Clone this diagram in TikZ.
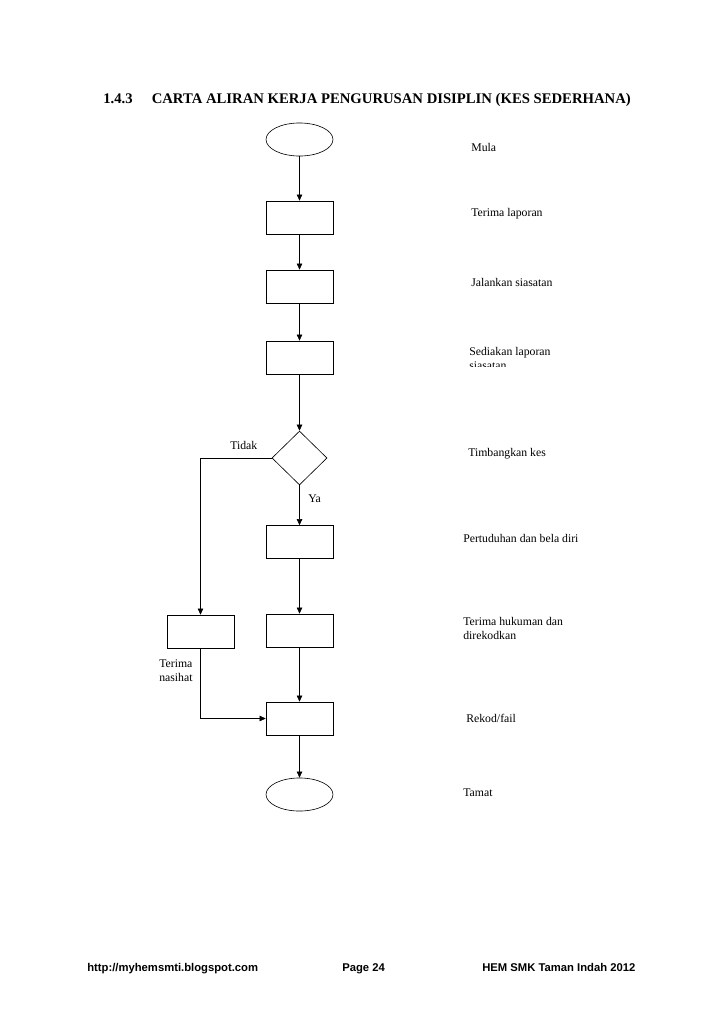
\documentclass[tikz,border=0pt]{standalone}
\usepackage{fontspec}
\setmainfont{Liberation Serif}
\setsansfont{Liberation Sans}
\usetikzlibrary{positioning}
\usetikzlibrary{shapes.geometric}
\usetikzlibrary{arrows.meta}

\begin{document}
\begin{tikzpicture}[x=0.817pt, y=-0.817pt, line width=0.5pt,
    proc/.style={draw, rectangle, minimum width=54.7pt, minimum height=27pt, inner sep=0pt},
    term/.style={draw, ellipse, minimum width=54.7pt, minimum height=27pt, inner sep=0pt},
    dec/.style={draw, diamond, minimum width=45pt, minimum height=44pt, inner sep=0pt},
    lbl/.style={anchor=west, inner sep=0pt, align=left, font=\fontsize{9.6}{11.4}\selectfont},
    foot/.style={anchor=base west, inner sep=0pt, font=\sffamily\bfseries\fontsize{9.2}{11}\selectfont},
    flow/.style={-{Triangle[length=5pt, width=4.5pt]}}]
    \useasboundingbox (0,0) rectangle (728,1031);

    % Title
    \node[anchor=west, inner sep=0pt, font=\bfseries\fontsize{12}{14}\selectfont] (title) at (103,100)
        {1.4.3\hspace{1.3em}CARTA ALIRAN KERJA PENGURUSAN DISIPLIN (KES SEDERHANA)};

    % Flow chart symbols
    \node[term] (start) at (299.5,139.5) {};
    \node[proc] (recv) at (299.5,217.5) {};
    \node[proc] (inv) at (299.5,286.5) {};
    \node[proc] (rep) at (299.5,357.5) {};
    \node[dec] (weigh) at (299.5,458) {};
    \node[proc] (chg) at (299.5,542) {};
    \node[proc] (adv) at (200.5,631.5) {};
    \node[proc] (pun) at (299.5,630.5) {};
    \node[proc] (rec) at (299.5,718.5) {};
    \node[term] (stop) at (299.5,794.5) {};

    % Connectors
    \draw[flow] (start) -- (recv);
    \draw[flow] (recv) -- (inv);
    \draw[flow] (inv) -- (rep);
    \draw[flow] (rep) -- (weigh);
    \draw[flow] (weigh) -- (chg);
    \draw[flow] (chg) -- (pun);
    \draw[flow] (pun) -- (rec);
    \draw[flow] (rec) -- (stop);
    \draw[flow] (weigh.west) -| (adv.north);
    \draw[flow] (adv.south) |- (rec.west);

    % Branch labels
    \node[lbl] (no) at (230,445) {Tidak};
    \node[lbl] (yes) at (308,499) {Ya};
    \node[lbl] (advtxt) at (159,671) {Terima\\nasihat};

    % Step descriptions
    \node[lbl] (t1) at (471,147) {Mula};
    \node[lbl] (t2) at (471,214) {Terima laporan};
    \node[lbl] (t3) at (471,282) {Jalankan siasatan};
    \begin{scope}
        \clip (440,340) rectangle (620,366);
        \node[lbl, anchor=north west] (t4) at (469,347) {Sediakan laporan\\siasatan};
    \end{scope}
    \node[lbl] (t5) at (468,454) {Timbangkan kes};
    \node[lbl] (t6) at (463,538) {Pertuduhan dan bela diri};
    \node[lbl] (t7) at (463,628) {Terima hukuman dan\\direkodkan};
    \node[lbl] (t8) at (466,718) {Rekod/fail};
    \node[lbl] (t9) at (463,793) {Tamat};

    % Footer
    \node[foot] (url) at (87,971) {http://myhemsmti.blogspot.com};
    \node[foot] (page) at (342,971) {Page 24};
    \node[foot] (school) at (482,971) {HEM SMK Taman Indah 2012};
\end{tikzpicture}
\end{document}
